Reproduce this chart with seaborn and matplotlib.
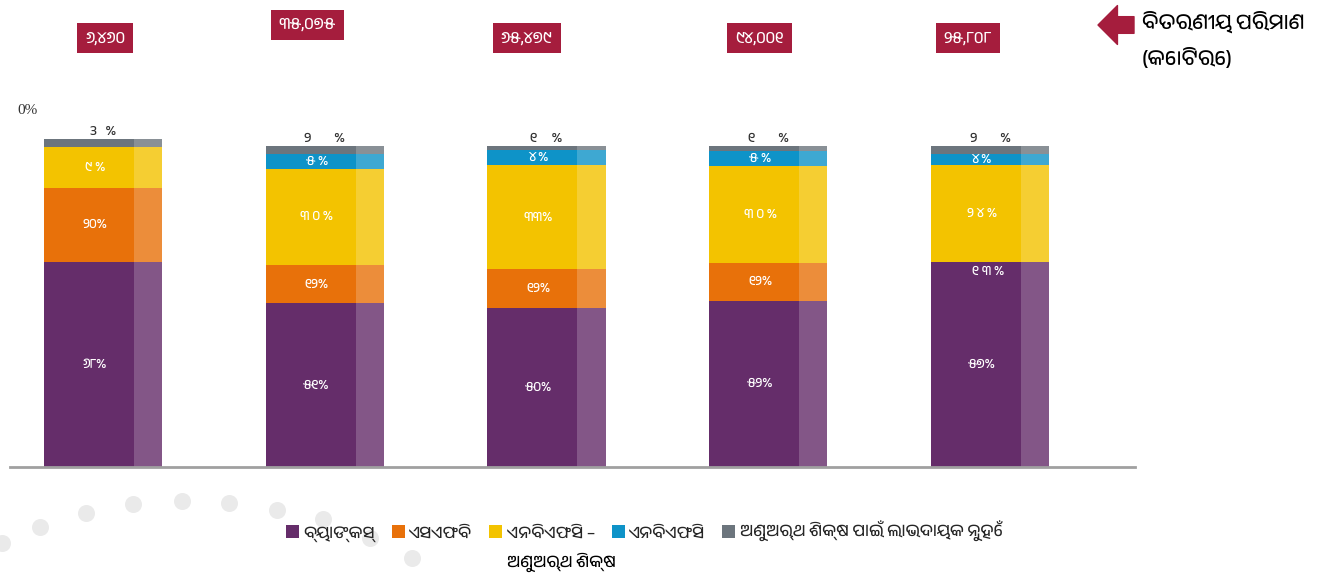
import matplotlib
matplotlib.use("Agg")
import matplotlib.pyplot as plt
import numpy as np
import pandas as pd
import seaborn as sns
from matplotlib import font_manager
from matplotlib.patches import Patch, Rectangle

# total disbursement (crore) shown in the red boxes above each bar
totals = ["୬,୪୬୦", "୩୫,୦୭୫", "୬୫,୪୭୯", "୯୪,୦୦୧", "୨୫,୮୦୮"]

segments = ["ବ୍ୟାଙ୍କସ୍", "ଏସଏଫବି", "ଏନବିଏଫସି –", "ଏନବିଏଫସି",
            "ଅଣୁଅର୍ଥ ଶିକ୍ଷ ପାଇଁ ଲାଭଦାୟକ ନୁହେଁ"]

# segment shares (% of bar height), bottom to top
banks = [64.0, 51.0, 49.4, 51.8, 64.0]
sfb = [23.0, 12.0, 12.2, 11.8, 0.0]
nbfc_mfi = [12.8, 30.0, 32.4, 30.3, 30.2]
nbfc = [0.0, 4.5, 4.7, 4.7, 3.4]
not_for_profit = [2.5, 2.5, 1.3, 1.3, 2.4]

# printed labels
banks_lbl = ["୬୮%", "୫୧%", "୫୦%", "୫୨%", "୫୭%"]
sfb_lbl = ["୨୦%", "୧୨%", "୧୨%", "୧୨%", "୧ ୩ %"]
nbfc_mfi_lbl = ["୯ %", "୩ ୦ %", "୩୩%", "୩ ୦ %", "୨ ୪ %"]
nbfc_lbl = ["", "୫ %", "୪ %", "୫ %", "୪ %"]
nfp_lbl = ["3   %", "୨        %", "୧     %", "୧        %", "୨        %"]

colors = ["#652D6A", "#E8710A", "#F3C300", "#0E93C8", "#6C757D"]
crimson = "#A51D3D"

sns.set_theme(style="white")
odia = [f.name for f in font_manager.fontManager.ttflist
        if any(k in f.name.lower() for k in ("oriya", "odia", "lohit"))]
fams = odia[:1] + ["Noto Sans", "DejaVu Sans"]
plt.rcParams["font.family"] = fams
serif = odia[:1] + ["Liberation Serif", "DejaVu Serif"]

fig = plt.figure(figsize=(13.18, 5.75), dpi=100)

# faint decorative dots in the background
bg = fig.add_axes([0, 0, 1, 1], zorder=-1)
bg.set_xlim(0, 1318)
bg.set_ylim(575, 0)
bg.axis("off")
dots_x = [2, 40, 86, 133, 182, 229, 277, 323, 370, 412]
dots_y = [543, 527, 513, 504, 501, 503, 510, 519, 538, 558]
bg.scatter(dots_x, dots_y, s=150, color="#EAEAEA", linewidths=0)

ax = fig.add_axes([10 / 1318, 108 / 575, 1125 / 1318, 467 / 575])
ax.patch.set_alpha(0)

df = pd.DataFrame({"total": totals, "banks": banks, "sfb": sfb,
                   "nbfc_mfi": nbfc_mfi, "nbfc": nbfc, "nfp": not_for_profit})
cols = ["banks", "sfb", "nbfc_mfi", "nbfc", "nfp"]
labels = [banks_lbl, sfb_lbl, nbfc_mfi_lbl, nbfc_lbl, nfp_lbl]

bottom = np.zeros(len(df))
for col, color, lbls in zip(cols, colors, labels):
    n_before = len(ax.patches)
    sns.barplot(data=df, x="total", y=col, color=color, bottom=bottom,
                width=0.533, saturation=1, ax=ax, linewidth=0)
    new = ax.patches[n_before:]
    for i, p in enumerate(new):
        x0, w, h = p.get_x(), p.get_width(), p.get_height()
        y0 = p.get_y()
        # lighter strip on the right side of each bar
        ax.add_patch(Rectangle((x0 + 0.76 * w, y0), 0.24 * w, h,
                               facecolor="white", alpha=0.2, linewidth=0))
        txt = lbls[i]
        if not txt:
            continue
        cx = x0 + 0.38 * w
        if col == "nfp":
            ax.text(x0 + 0.5 * w, y0 + h + 0.6, txt, ha="center", va="bottom",
                    fontsize=10, color="#333333", family=serif)
        elif h == 0:
            ax.text(cx + 0.1 * w, y0 - 1.5, txt, ha="center", va="top",
                    fontsize=9.5, color="white", family=serif)
        else:
            ax.text(cx + 0.05 * w, y0 + h / 2, txt, ha="center", va="center",
                    fontsize=9.5, color="white", family=serif)
    bottom = bottom + df[col].to_numpy()

ax.set_ylim(0, 145.5)
ax.set_xlim(-0.42, 4.654)
ax.set_xlabel("")
ax.set_ylabel("")
ax.set_xticks([])
ax.set_yticks([])
for s in ["top", "left", "right"]:
    ax.spines[s].set_visible(False)
ax.spines["bottom"].set_color("#A0A0A0")
ax.spines["bottom"].set_linewidth(2)

# red boxes with total disbursement
box_dx = [0.01, -0.08, -0.09, -0.04, -0.10]
box_y = [133.6, 137.7, 133.6, 133.6, 133.6]
for i, t in enumerate(totals):
    ax.text(i + box_dx[i], box_y[i], t, ha="center", va="center", fontsize=11.5,
            color="white", fontweight="bold",
            bbox=dict(boxstyle="square,pad=0.5", facecolor=crimson, edgecolor="none"))

fig.text(28 / 1318, 1 - 110 / 575, "0%", ha="center", va="center", fontsize=11,
         color="#333333", family=["Liberation Serif", "DejaVu Serif"])

# arrow + unit note at the top right
ax.annotate("", xy=(1098, 575 - 25), xytext=(1134, 575 - 25),
            xycoords="figure pixels", textcoords="figure pixels",
            arrowprops=dict(arrowstyle="simple,head_length=0.7,head_width=1.4,tail_width=0.6",
                            color=crimson, mutation_scale=20, shrinkA=0, shrinkB=0))
fig.text(1142 / 1318, 1 - 22 / 575, "ବିତରଣୀୟ ପରିମାଣ", ha="left", va="center",
         fontsize=15, color="black")
fig.text(1142 / 1318, 1 - 58 / 575, "(କୋଟିରେ)", ha="left", va="center",
         fontsize=15, color="black")

handles = [Patch(facecolor=c, edgecolor="none") for c in colors]
leg = fig.legend(handles, segments, loc="center", bbox_to_anchor=(644 / 1318, 1 - 532 / 575),
                 ncol=5, frameon=False, handlelength=0.8, handleheight=0.8,
                 handletextpad=0.25, columnspacing=1.0, fontsize=12)
for t in leg.get_texts():
    t.set_fontweight("bold")

fig.canvas.draw()
bb = leg.get_texts()[2].get_window_extent()
fig.text(bb.x0 / 1318, (bb.y0 - 22) / 575, "ଅଣୁଅର୍ଥ ଶିକ୍ଷ", ha="left", va="center",
         fontsize=12, fontweight="bold", color="black")

fig.savefig("out.png", dpi=100)
